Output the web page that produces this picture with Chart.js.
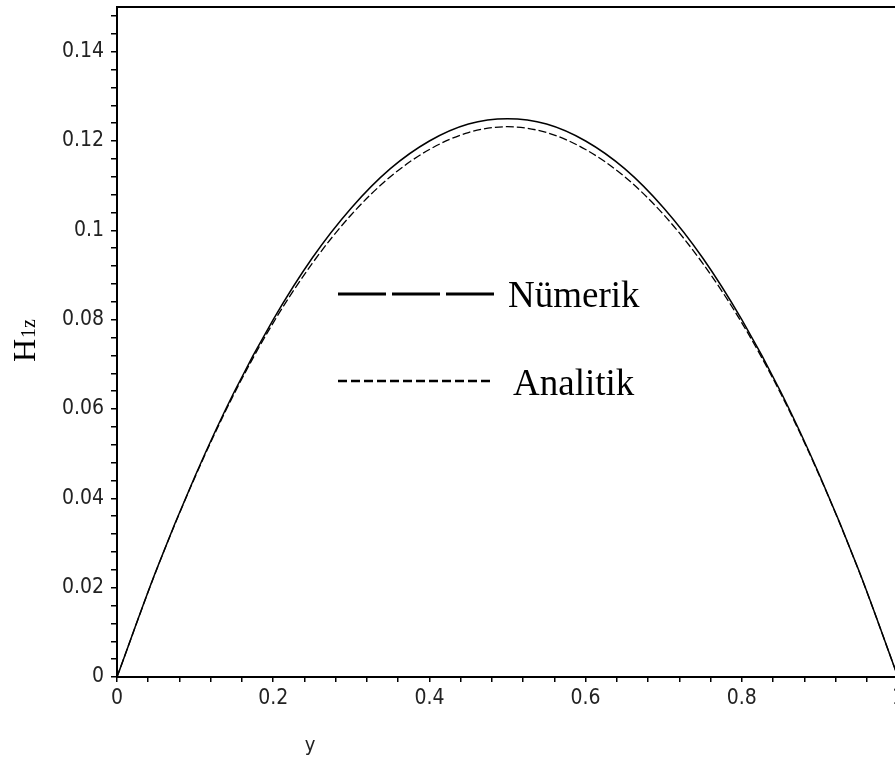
<!DOCTYPE html>
<html>
<head>
<meta charset="utf-8">
<script src="https://cdn.jsdelivr.net/npm/chart.js@4.4.1/dist/chart.umd.min.js"></script>
<style>
    html, body { margin: 0; padding: 0; background: #fff; overflow: hidden; }
    .wrap { width: 895px; height: 768px; overflow: hidden; }
</style>
</head>
<body>
<div class="wrap"><canvas id="chart" width="900" height="768"></canvas></div>
<script>
// y positions along the channel (x axis)
const positions = [0, 0.05, 0.1, 0.15, 0.2, 0.25, 0.3, 0.35, 0.4, 0.45, 0.5,
    0.55, 0.6, 0.65, 0.7, 0.75, 0.8, 0.85, 0.9, 0.95, 1];
const numerik = [0, 0.0238, 0.0450, 0.0638, 0.0800, 0.0938, 0.1050, 0.1138, 0.1200, 0.1238, 0.1250,
    0.1238, 0.1200, 0.1138, 0.1050, 0.0938, 0.0800, 0.0638, 0.0450, 0.0238, 0];
const analitik = [0, 0.0237, 0.0448, 0.0634, 0.0793, 0.0926, 0.1035, 0.1120, 0.1181, 0.1219, 0.1232,
    0.1219, 0.1181, 0.1120, 0.1035, 0.0926, 0.0793, 0.0634, 0.0448, 0.0237, 0];
const seriesLabels = ['Nümerik', 'Analitik'];
const xTickLabels = [0, 0.2, 0.4, 0.6, 0.8, 1];
const yTickLabels = [0, 0.02, 0.04, 0.06, 0.08, 0.1, 0.12, 0.14];

const isLabel = (list, v) => list.some(t => Math.abs(t - v) < 1e-6);
const tickFont = { family: '"DejaVu Sans Condensed", sans-serif', size: 21 };

const data = {
    datasets: [{
        label: seriesLabels[0],
        data: positions.map((p, i) => ({ x: p, y: numerik[i] })),
        borderColor: '#000',
        borderWidth: 1.5,
        pointRadius: 0,
        cubicInterpolationMode: 'monotone',
        legendDash: [48, 6],
        legendWidth: 3
    }, {
        label: seriesLabels[1],
        data: positions.map((p, i) => ({ x: p, y: analitik[i] })),
        borderColor: '#000',
        borderWidth: 1.3,
        borderDash: [8, 3],
        pointRadius: 0,
        cubicInterpolationMode: 'monotone',
        legendDash: [9, 4],
        legendWidth: 2.7
    }]
};

// legend + axis titles + top frame, drawn where the original had them
const extras = {
    id: 'extras',
    afterDraw(chart) {
        const { ctx, chartArea } = chart;
        ctx.save();
        ctx.strokeStyle = '#000';
        ctx.lineWidth = 2;
        ctx.beginPath();
        ctx.moveTo(chartArea.left - 1, chartArea.top);
        ctx.lineTo(chartArea.right, chartArea.top);
        ctx.stroke();

        const rows = [{ lineY: 294, textX: 508, baseY: 307 }, { lineY: 381, textX: 513, baseY: 395 }];
        chart.data.datasets.forEach((ds, i) => {
            const r = rows[i];
            ctx.setLineDash(ds.legendDash);
            ctx.lineWidth = ds.legendWidth;
            ctx.beginPath();
            ctx.moveTo(338, r.lineY);
            ctx.lineTo(494, r.lineY);
            ctx.stroke();
            ctx.setLineDash([]);
            ctx.fillStyle = '#000';
            ctx.font = '37px "Liberation Serif"';
            ctx.textBaseline = 'alphabetic';
            ctx.textAlign = 'left';
            ctx.fillText(ds.label, r.textX, r.baseY);
        });

        // y axis title "H1z"
        ctx.translate(35, 362);
        ctx.rotate(-Math.PI / 2);
        ctx.font = '32px "Liberation Serif"';
        ctx.fillText('H', 0, 0);
        const w = ctx.measureText('H').width;
        ctx.font = '20px "Liberation Serif"';
        ctx.fillText('1z', w + 1, 0);
        ctx.restore();

        // x axis title
        ctx.save();
        ctx.fillStyle = '#222';
        ctx.font = '20px "DejaVu Sans Condensed", sans-serif';
        ctx.textAlign = 'center';
        ctx.textBaseline = 'middle';
        ctx.fillText('y', 310, 746);
        ctx.restore();
    }
};

const config = {
    type: 'line',
    data,
    options: {
        responsive: false,
        animation: false,
        layout: { padding: { top: 7, right: 2, left: 0, bottom: 0 } },
        plugins: { legend: false, tooltip: false },
        scales: {
            x: {
                type: 'linear',
                min: 0,
                max: 1,
                border: { display: true, color: '#000', width: 2 },
                grid: { drawOnChartArea: false, color: '#000', lineWidth: 1.5, tickLength: 5 },
                ticks: {
                    stepSize: 0.04,
                    autoSkip: false,
                    includeBounds: false,
                    maxRotation: 0,
                    padding: 4,
                    color: '#222',
                    font: tickFont,
                    callback: v => isLabel(xTickLabels, v) ? String(+v.toFixed(1)) : ''
                },
                afterFit(scale) {
                    scale.height = 91;
                    scale.paddingLeft = 0;
                    scale.paddingRight = 0;
                }
            },
            y: {
                min: 0,
                max: 0.15,
                border: { display: true, color: '#000', width: 2 },
                grid: { drawOnChartArea: false, color: '#000', lineWidth: 1.5, tickLength: 6 },
                ticks: {
                    stepSize: 0.004,
                    autoSkip: false,
                    includeBounds: false,
                    padding: 7,
                    color: '#222',
                    font: tickFont,
                    callback: v => isLabel(yTickLabels, v) ? String(+v.toFixed(2)) : ''
                },
                afterFit(scale) {
                    scale.width = 117;
                    scale.paddingTop = 0;
                    scale.paddingBottom = 0;
                }
            }
        }
    },
    plugins: [extras]
};

const myChart = new Chart(document.getElementById('chart'), config);
</script>
</body>
</html>
